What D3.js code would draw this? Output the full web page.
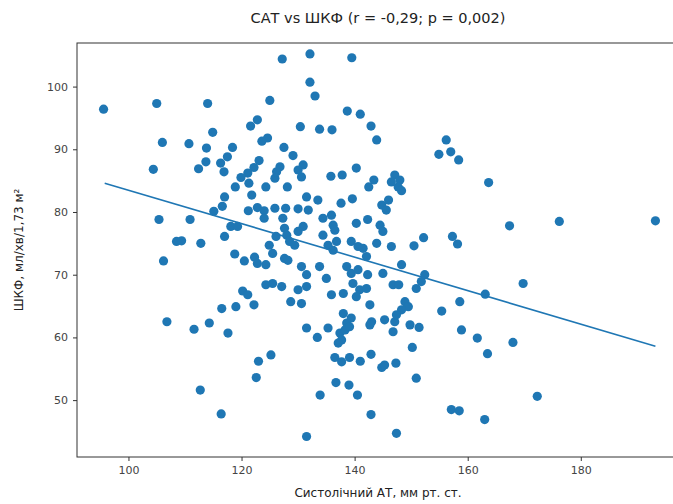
<!DOCTYPE html>
<html><head><meta charset="utf-8">
<script src="https://cdn.jsdelivr.net/npm/d3@7"></script>
<style>body{margin:0;background:#fff}svg{display:block}text{font-family:"DejaVu Sans",sans-serif}</style>
</head><body><svg id="c" width="673" height="504"></svg>
<script>
const sbp = [95.6,105.0,114.0,125.0,122.8,121.6,114.9,106.0,110.7,113.8,118.4,124.6,123.6,117.5,123.1,113.7,116.3,112.4,104.4,116.9,122.2,121.1,119.9,121.3,118.9,124.3,125.9,127.2,132.1,139.5,132.1,133.0,138.7,141.0,130.4,133.8,136.0,142.9,143.9,127.5,129.1,156.2,154.9,157.0,158.4,126.8,126.2,130.9,130.0,130.6,128.1,140.3,135.8,137.8,143.4,142.5,147.1,148.0,146.5,147.7,163.7,117.0,121.8,116.6,115.1,121.2,122.8,124.0,124.0,125.9,105.4,110.9,118.1,119.3,117.0,126.1,108.5,109.4,112.8,124.9,125.5,118.8,120.5,122.3,122.8,124.3,106.2,124.3,125.5,120.2,121.1,116.5,119.0,122.2,106.8,111.6,114.3,117.6,123.0,125.2,122.6,112.7,116.4,148.3,131.5,133.5,137.6,139.6,127.8,130.0,131.8,144.8,146.0,145.6,134.4,135.9,140.3,142.3,127.6,127.3,130.9,130.0,136.2,136.5,144.5,145.0,134.4,128.0,128.5,129.4,135.3,136.8,136.2,139.4,140.6,141.5,143.9,146.5,150.5,152.2,157.3,158.2,142.1,127.6,128.2,130.6,131.5,133.8,135.0,138.6,139.4,140.6,142.3,139.7,140.9,140.3,145.0,148.3,152.4,151.8,150.9,127.1,130.0,131.5,135.9,138.0,142.1,146.8,147.8,128.7,130.6,142.7,148.9,149.5,148.3,158.6,155.4,138.0,139.4,138.6,143.0,145.3,147.1,147.4,149.8,131.5,135.3,158.9,133.4,137.4,138.3,139.1,137.7,137.1,142.7,146.8,151.4,136.5,137.7,139.1,141.0,142.9,144.8,145.3,147.3,150.2,136.7,139.0,140.5,133.9,150.9,142.9,157.1,158.5,131.5,147.4,161.7,163.5,168.0,172.3,163.0,167.4,176.2,193.2,169.8,163.1];
const gfr = [96.4,97.3,97.3,97.8,94.7,93.7,92.7,91.1,90.9,90.2,90.3,91.8,91.3,88.8,88.2,88.0,87.8,86.9,86.8,86.4,87.1,86.2,85.5,84.6,84.0,84.0,85.4,104.4,105.2,104.6,100.7,98.5,96.1,95.6,93.6,93.2,93.1,93.7,91.5,90.3,89.0,91.5,89.2,89.6,88.3,87.2,86.4,87.5,86.7,85.6,84.0,87.0,85.7,85.9,85.1,84.0,85.9,85.1,84.8,84.0,84.7,82.4,82.7,80.9,80.1,80.2,80.7,80.2,79.0,80.6,78.8,78.8,77.7,77.7,76.1,76.1,75.3,75.4,75.0,74.7,73.4,73.3,72.2,72.8,71.8,71.6,72.2,68.4,68.6,67.4,66.8,64.6,64.9,65.2,62.5,61.3,62.3,60.7,56.2,57.2,53.6,51.6,47.8,83.4,82.4,81.9,81.4,82.1,80.6,80.5,80.3,81.1,81.9,80.3,79.0,79.5,78.2,78.8,77.4,79.0,77.7,76.9,77.9,77.1,77.9,76.9,76.3,76.3,75.3,74.7,74.7,75.3,73.9,75.3,74.5,74.2,75.0,74.5,74.6,75.9,76.1,74.9,72.9,72.6,72.3,71.3,70.0,71.3,69.4,71.3,70.2,70.8,70.0,68.6,67.6,66.5,70.2,71.6,70.0,68.9,67.8,68.1,67.6,68.1,66.8,67.0,67.8,68.4,68.4,65.7,65.4,65.2,65.7,64.9,64.4,65.7,64.2,63.8,63.1,62.3,62.5,62.8,62.5,63.6,62.0,61.5,61.5,61.2,60.0,60.7,61.2,61.7,59.6,59.1,62.0,60.9,61.6,56.8,56.1,56.8,56.2,57.3,55.2,55.6,55.9,58.4,52.8,52.4,50.8,50.8,53.5,47.7,48.5,48.3,44.2,44.7,59.9,57.4,59.2,50.6,46.9,77.8,78.5,78.6,68.6,66.9];
const fitX = [95.8, 193.2];
const fitY = [84.6, 58.6];
const xTicks = [100,120,140,160,180];
const yTicks = [50,60,70,80,90,100];
const title = "САТ vs ШКФ (r = -0,29; p = 0,002)";
const xLabel = "Систолічний АТ, мм рт. ст.";
const yLabel = "ШКФ, мл/хв/1,73 м²";

const svg = d3.select("#c");
const L=77, R=682, T=43, B=457;
const x = d3.scaleLinear().domain([90.9,197.9]).range([L,R]);
const y = d3.scaleLinear().domain([40.93,106.95]).range([B,T]);
const C0 = "#1f77b4";

const g = svg.append("g");
g.selectAll("circle.p").data(sbp.map((v,i)=>[v,gfr[i]])).enter().append("circle")
  .attr("cx",d=>x(d[0])).attr("cy",d=>y(d[1])).attr("r",4.6).attr("fill",C0);
g.append("path").attr("d",d3.line().x(d=>x(d[0])).y(d=>y(d[1]))(fitX.map((v,i)=>[v,fitY[i]])))
  .attr("stroke",C0).attr("stroke-width",1.6).attr("fill","none");

svg.append("rect").attr("x",L).attr("y",T).attr("width",R-L).attr("height",B-T)
  .attr("fill","none").attr("stroke","#333").attr("stroke-width",1);

const xa = svg.append("g").attr("transform",`translate(0,${B})`)
  .call(d3.axisBottom(x).tickValues(xTicks).tickSize(4).tickPadding(5).tickFormat(d3.format("d")));
const ya = svg.append("g").attr("transform",`translate(${L},0)`)
  .call(d3.axisLeft(y).tickValues(yTicks).tickSize(4).tickPadding(5).tickFormat(d3.format("d")));
[xa,ya].forEach(a=>{a.select(".domain").remove();
  a.selectAll("text").attr("font-size",11).attr("fill","#444").attr("font-family","DejaVu Sans");
  a.selectAll("line").attr("stroke","#333");});

svg.append("text").attr("x",378).attr("y",23).attr("text-anchor","middle")
  .attr("font-size",14.5).attr("fill","#222").attr("font-family","Open Sans, DejaVu Sans").text(title);
svg.append("text").attr("x",378).attr("y",497).attr("text-anchor","middle")
  .attr("font-size",12).attr("fill","#222").text(xLabel);
svg.append("text").attr("transform","translate(23,250) rotate(-90)").attr("text-anchor","middle")
  .attr("font-size",12).attr("fill","#222").text(yLabel);
</script></body></html>
